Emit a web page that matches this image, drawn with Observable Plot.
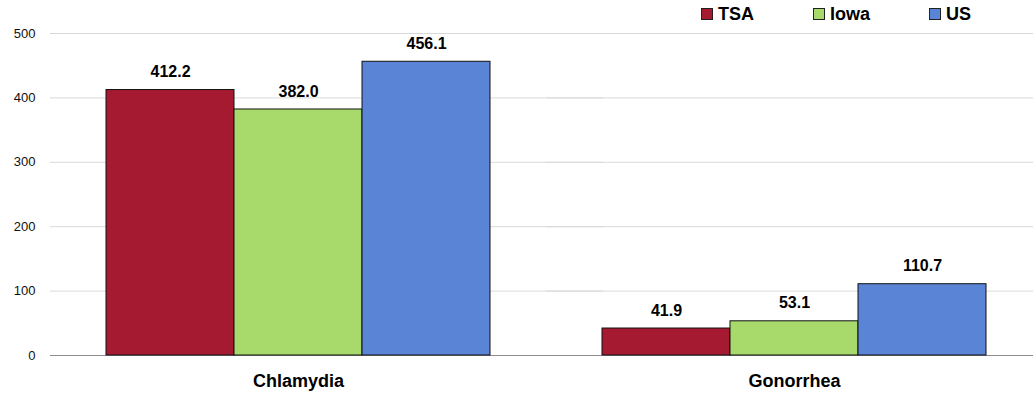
<!DOCTYPE html>
<html>
<head>
<meta charset="utf-8">
<script src="https://cdn.jsdelivr.net/npm/d3@7"></script>
<script src="https://cdn.jsdelivr.net/npm/@observablehq/plot@0.6"></script>
<style>
  html, body { margin: 0; padding: 0; background: #fff; }
  #wrap { position: relative; width: 1033px; height: 396px; overflow: hidden; font-family: "Liberation Sans", Arial, sans-serif; }
  #legend { position: absolute; top: 3px; left: 701px; display: flex; font-weight: bold; font-size: 18px; line-height: 22px; color: #000; z-index: 2; }
  .item { display: flex; align-items: center; }
  .sw { width: 10px; height: 10px; border: 1px solid #222; margin-right: 5px; }
  svg { position: absolute; top: 0; left: 0; }
</style>
</head>
<body>
<div id="wrap"><div id="legend"></div></div>
<script>
const diseases = ["Chlamydia", "Gonorrhea"];
const regions = ["TSA", "Iowa", "US"];
const tsaValues = [412.2, 41.9];
const iowaValues = [382.0, 53.1];
const usValues = [456.1, 110.7];
const yTicks = [0, 100, 200, 300, 400, 500];
const colors = ["#A51A30", "#A8D96B", "#5A84D6"];

const seriesValues = [tsaValues, iowaValues, usValues];
const rows = [];
diseases.forEach((d, i) => regions.forEach((r, j) => rows.push({disease: d, region: r, value: seriesValues[j][i]})));

const legend = document.getElementById("legend");
const gaps = [59, 59, 0];
regions.forEach((r, j) => {
  const it = document.createElement("div");
  it.className = "item";
  it.style.marginRight = gaps[j] + "px";
  it.innerHTML = `<span class="sw" style="background:${colors[j]}"></span><span>${r}</span>`;
  legend.appendChild(it);
});

const chart = Plot.plot({
  width: 1033,
  height: 396,
  marginTop: 33,
  marginBottom: 41,
  marginLeft: 50,
  marginRight: 0,
  style: {fontFamily: "'Liberation Sans', Arial, sans-serif", fontSize: "13px", color: "#000", background: "transparent"},
  fx: {domain: diseases, range: [50, 1042], paddingInner: 0.222, paddingOuter: 0.111, label: null},
  x: {domain: regions, padding: 0, axis: null},
  y: {domain: [0, 500], label: null},
  color: {domain: regions, range: colors},
  marks: [
    Plot.ruleY(yTicks.filter(t => t > 0), {stroke: "#d9d9d9", strokeWidth: 1, insetLeft: -55, insetRight: -112}),
    Plot.ruleY([0], {stroke: "#8c8c8c", strokeWidth: 1, insetLeft: -55, insetRight: -112}),
    Plot.axisY(yTicks, {tickSize: 0, tickPadding: 70, fontSize: 13, fill: "#111", label: null}),
    Plot.axisFx({anchor: "bottom", tickSize: 0, tickPadding: 19, fontSize: 18, fontWeight: "bold", fill: "#000", label: null}),
    Plot.barY(rows, {fx: "disease", x: "region", y: "value", fill: "region", stroke: "#111", strokeWidth: 1}),
    Plot.text(rows, {fx: "disease", x: "region", y: "value", text: d => d.value.toFixed(1), dy: -18, fontSize: 16, fontWeight: "bold", fill: "#000"})
  ]
});
document.getElementById("wrap").appendChild(chart);
</script>
</body>
</html>
